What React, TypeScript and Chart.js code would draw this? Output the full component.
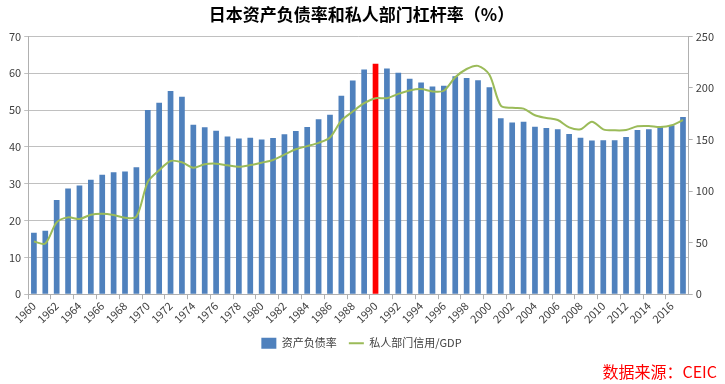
import React, { useEffect, useRef } from 'react';
import { Chart, registerables } from 'chart.js';

Chart.register(...registerables);

const years = [
  '1960', '1961', '1962', '1963', '1964', '1965', '1966', '1967', '1968', '1969',
  '1970', '1971', '1972', '1973', '1974', '1975', '1976', '1977', '1978', '1979',
  '1980', '1981', '1982', '1983', '1984', '1985', '1986', '1987', '1988', '1989',
  '1990', '1991', '1992', '1993', '1994', '1995', '1996', '1997', '1998', '1999',
  '2000', '2001', '2002', '2003', '2004', '2005', '2006', '2007', '2008', '2009',
  '2010', '2011', '2012', '2013', '2014', '2015', '2016', '2017',
];

const assetLiabilityRatio = [
  16.7, 17.2, 25.6, 28.7, 29.5, 31.1, 32.4, 33.1, 33.3, 34.5,
  50.0, 52.0, 55.2, 53.6, 46.0, 45.3, 44.4, 42.8, 42.3, 42.5,
  42.0, 42.4, 43.4, 44.3, 45.4, 47.5, 48.7, 53.9, 58.0, 61.0,
  62.6, 61.3, 60.1, 58.5, 57.5, 56.4, 56.6, 59.2, 58.7, 58.1,
  56.2, 47.8, 46.6, 46.8, 45.5, 45.1, 44.8, 43.5, 42.5, 41.7,
  41.8, 41.8, 42.7, 44.6, 44.8, 45.3, 45.9, 48.1,
];

const privateCreditGDP = [
  51.1, 49.2, 69.7, 74.5, 72.9, 77.1, 78.1, 76.8, 74.2, 75.2,
  108.7, 120.1, 129.2, 127.9, 122.7, 126.0, 126.6, 125.0, 123.7, 125.2,
  127.5, 130.2, 135.4, 140.6, 143.6, 146.8, 152.0, 168.3, 177.1, 185.2,
  190.1, 190.1, 194.3, 197.6, 198.9, 196.6, 197.3, 210.3, 218.4, 221.4,
  212.8, 182.9, 180.7, 180.0, 173.5, 170.9, 168.9, 161.8, 159.9, 167.3,
  159.9, 158.9, 159.2, 162.8, 163.1, 162.1, 163.8, 168.9,
];

const leftTicks = [0, 10, 20, 30, 40, 50, 60, 70];
const rightTicks = [0, 50, 100, 150, 200, 250];
const highlightYear = '1990';

const titleText = '日本资产负债率和私人部门杠杆率（%）';
const barLabel = '资产负债率';
const lineLabel = '私人部门信用/GDP';
const sourceText = '数据来源：CEIC';

const BLUE = '#4F81BD';
const RED = '#FF0000';
const GREEN = '#9BBB59';
const TEXT = '#404040';
const GRID = '#C0C0C0';
const AXIS = '#B0B0B0';
const FONT = "'Liberation Sans Narrow', 'Noto Sans CJK SC', sans-serif";
const CJK = "'Noto Sans CJK SC', 'Liberation Sans Narrow', sans-serif";

export default function App() {
  const canvasRef = useRef<HTMLCanvasElement | null>(null);

  useEffect(() => {
    const canvas = canvasRef.current;
    if (!canvas) return;
    const chart = new Chart(canvas, {
      type: 'bar',
      data: {
        labels: years,
        datasets: [
          {
            type: 'bar',
            label: barLabel,
            data: assetLiabilityRatio,
            backgroundColor: years.map((y) => (y === highlightYear ? RED : BLUE)),
            borderWidth: 0,
            barPercentage: 0.5,
            categoryPercentage: 1,
            yAxisID: 'y',
            order: 2,
            pointStyle: 'rect',
          } as any,
          {
            type: 'line',
            label: lineLabel,
            data: privateCreditGDP,
            borderColor: GREEN,
            backgroundColor: GREEN,
            borderWidth: 2,
            pointRadius: 0,
            tension: 0.3,
            yAxisID: 'y1',
            order: 1,
            pointStyle: 'line',
          } as any,
        ],
      },
      options: {
        responsive: false,
        maintainAspectRatio: false,
        animation: false,
        layout: { padding: { left: 6, right: 8, top: 0, bottom: 2 } },
        plugins: {
          title: {
            display: true,
            text: titleText,
            color: '#000000',
            font: { family: CJK, size: 17, weight: 'bold' },
            padding: { top: 4, bottom: 12 },
          },
          subtitle: {
            display: true,
            text: sourceText,
            position: 'bottom',
            align: 'end',
            color: RED,
            font: { family: CJK, size: 16 },
            padding: { top: 4, bottom: 0 },
          },
          legend: {
            display: true,
            position: 'bottom',
            labels: {
              usePointStyle: true,
              pointStyleWidth: 15,
              boxHeight: 11,
              color: TEXT,
              font: { family: CJK, size: 11 },
              padding: 12,
              sort: (a: any, b: any) => a.datasetIndex - b.datasetIndex,
            },
          },
          tooltip: { enabled: false },
        },
        scales: {
          x: {
            offset: true,
            grid: {
              display: true,
              offset: true,
              drawOnChartArea: false,
              drawTicks: true,
              tickLength: 5,
              color: (ctx: any) => (ctx.index % 2 === 0 ? AXIS : 'rgba(0,0,0,0)'),
            },
            border: { display: true, color: AXIS },
            ticks: {
              autoSkip: false,
              maxRotation: 45,
              minRotation: 45,
              color: TEXT,
              font: { family: FONT, size: 11 },
              padding: 0,
              callback: (_v: any, i: number) => (i % 2 === 0 ? years[i] : ''),
            },
          },
          y: {
            position: 'left',
            min: leftTicks[0],
            max: leftTicks[leftTicks.length - 1],
            afterBuildTicks: (axis: any) => {
              axis.ticks = leftTicks.map((v) => ({ value: v }));
            },
            grid: { color: GRID, tickLength: 4, drawTicks: true },
            border: { display: true, color: AXIS },
            ticks: { color: TEXT, font: { family: FONT, size: 11 }, padding: 3 },
          },
          y1: {
            position: 'right',
            min: rightTicks[0],
            max: rightTicks[rightTicks.length - 1],
            afterBuildTicks: (axis: any) => {
              axis.ticks = rightTicks.map((v) => ({ value: v }));
            },
            grid: { drawOnChartArea: false, color: AXIS, tickLength: 4, drawTicks: true },
            border: { display: true, color: AXIS },
            ticks: { color: TEXT, font: { family: FONT, size: 11 }, padding: 3 },
          },
        },
      } as any,
    });
    return () => chart.destroy();
  }, []);

  return (
    <div style={{ position: 'fixed', left: 0, top: 0, width: 725, height: 384, background: '#ffffff' }}>
      <canvas ref={canvasRef} width={725} height={384} style={{ width: 725, height: 384 }} />
    </div>
  );
}
